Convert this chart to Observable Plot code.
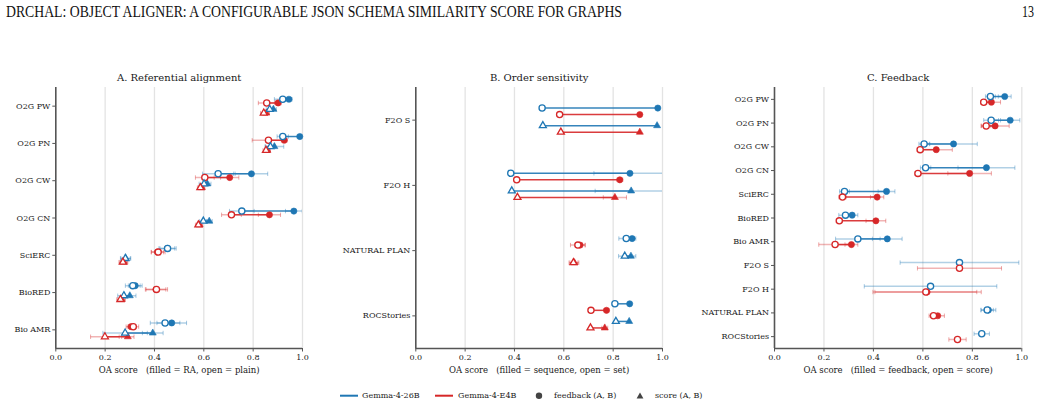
<!DOCTYPE html>
<html><head><meta charset="utf-8">
<script src="https://cdn.jsdelivr.net/npm/d3@7"></script>
<script src="https://cdn.jsdelivr.net/npm/@observablehq/plot@0.6"></script>
<style>
html,body{margin:0;padding:0;background:#fff;}
body{width:1041px;height:406px;position:relative;overflow:hidden;font-family:"DejaVu Serif",serif;}
.abs{position:absolute;}
.abs svg{overflow:visible;max-width:none;background:transparent;}
</style></head><body>
<svg class="abs" style="left:0;top:0" width="1041" height="30">
  <text x="6" y="17" font-family="Liberation Serif" font-size="16" textLength="616" lengthAdjust="spacingAndGlyphs" fill="#111">DRCHAL: OBJECT ALIGNER: A CONFIGURABLE JSON SCHEMA SIMILARITY SCORE FOR GRAPHS</text>
  <text x="1034" y="17" text-anchor="end" font-family="Liberation Serif" font-size="16" textLength="12" lengthAdjust="spacingAndGlyphs" fill="#111">13</text>
</svg>
<div id="pa" class="abs" style="left:0;top:60px;width:340px;height:320px"></div>
<div id="pb" class="abs" style="left:340px;top:60px;width:360px;height:320px"></div>
<div id="pc" class="abs" style="left:700px;top:60px;width:341px;height:320px"></div>
<svg class="abs" style="left:0;top:380px" width="1041" height="26" font-family="DejaVu Serif" font-size="8" fill="#222">
  <line x1="340" x2="358" y1="15.7" y2="15.7" stroke="#1f77b4" stroke-width="2"/>
  <text x="362" y="15.7" dominant-baseline="middle">Gemma-4-26B</text>
  <line x1="435" x2="453" y1="15.7" y2="15.7" stroke="#d62728" stroke-width="2"/>
  <text x="458" y="15.7" dominant-baseline="middle">Gemma-4-E4B</text>
  <circle cx="539" cy="15.7" r="3.2" fill="#444"/>
  <text x="554" y="15.7" dominant-baseline="middle">feedback (A, B)</text>
  <polygon points="636.6,18.6 643.4,18.6 640,12.6" fill="#444"/>
  <text x="655" y="15.7" dominant-baseline="middle">score (A, B)</text>
</svg>
<script>
// ---------- data ----------
const models = ["Gemma-4-26B", "Gemma-4-E4B"];
const catsA = ["O2G PW","O2G PN","O2G CW","O2G CN","SciERC","BioRED","Bio AMR"];
const catsB = ["F2O S","F2O H","NATURAL PLAN","ROCStories"];
const catsC = ["O2G PW","O2G PN","O2G CW","O2G CN","SciERC","BioRED","Bio AMR","F2O S","F2O H","NATURAL PLAN","ROCStories"];

// Panel A: [plain, plainErr, RA, RAErr]
const A_26B_feedback = [[0.920,0.034,0.945,0.013],[0.920,0.023,0.989,0.010],[0.658,0.063,0.793,0.066],[0.754,0.050,0.965,0.034],[0.453,0.035,0.452,0.030],[0.312,0.030,0.322,0.028],[0.443,0.060,0.470,0.060]];
const A_E4B_feedback = [[0.855,0.034,0.901,0.013],[0.862,0.066,0.926,0.012],[0.604,0.038,0.705,0.037],[0.712,0.040,0.866,0.045],[0.415,0.028,0.412,0.025],[0.408,0.045,0.406,0.040],[0.314,0.022,0.305,0.020]];
const A_26B_score    = [[0.867,0.014,0.882,0.012],[0.870,0.020,0.886,0.038],[0.601,0.020,0.614,0.015],[0.598,0.015,0.622,0.012],[0.282,0.020,0.284,0.020],[0.276,0.025,0.300,0.025],[0.281,0.090,0.393,0.042]];
const A_E4B_score    = [[0.843,0.013,0.853,0.013],[0.852,0.012,0.858,0.012],[0.586,0.012,0.592,0.012],[0.578,0.012,0.583,0.012],[0.272,0.016,0.276,0.016],[0.262,0.015,0.267,0.015],[0.199,0.058,0.292,0.025]];

// Panel B: [set, setErr, sequence, seqErr]
const B_26B_feedback = [[0.512,0,0.981,0],[0.385,0,0.868,0.146],[0.853,0.030,0.877,0.015],[0.807,0,0.867,0]];
const B_E4B_feedback = [[0.583,0,0.908,0],[0.409,0,0.827,0.012],[0.657,0.030,0.666,0.020],[0.710,0,0.773,0.010]];
const B_26B_score    = [[0.515,0,0.978,0],[0.389,0,0.873,0.146],[0.847,0.025,0.872,0.020],[0.811,0,0.865,0]];
const B_E4B_score    = [[0.588,0,0.908,0],[0.412,0,0.807,0.047],[0.639,0.018,0.643,0.018],[0.708,0,0.766,0.012]];

// Panel C: [score, scoreErr, feedback, feedbackErr]
const C_26B = [[0.873,0.020,0.931,0.026],[0.876,0.030,0.953,0.039],[0.605,0.021,0.724,0.096],[0.611,0.021,0.857,0.115],[0.283,0.020,0.453,0.034],[0.287,0.027,0.314,0.023],[0.337,0.090,0.456,0.060],[0.748,0.240,null,0],[0.631,0.268,null,0],[0.860,0.025,0.865,0.030],[0.838,0.031,null,0]];
const C_E4B = [[0.846,0.013,0.877,0.037],[0.856,0.019,0.892,0.057],[0.589,0.012,0.654,0.065],[0.580,0.012,0.789,0.088],[0.275,0.015,0.415,0.027],[0.262,0.012,0.410,0.040],[0.245,0.066,0.311,0.026],[0.748,0.170,null,0],[0.612,0.206,0.617,0.219],[0.643,0.018,0.660,0.027],[0.740,0.035,null,0]];

const xTicks = [0, 0.2, 0.4, 0.6, 0.8, 1.0];

// ---------- drawing ----------
const BLUE = "#1f77b4", RED = "#d62728";
const vline = {draw(ctx, size) { const r = Math.sqrt(size / Math.PI); ctx.moveTo(0, -r); ctx.lineTo(0, r); }};

function panel(el, {cats, series, title, xlabel, width, marginLeft, marginRight}) {
  const n = cats.length;
  const errMarks = [], linkMarks = [], fillMarks = [], openMarks = [];
  for (const s of series) {
    const rows = s.values.map((v, i) => ({y: i + s.off, open: v[0], oe: v[1], fill: v[2], fe: v[3]}));
    const errs = [];
    for (const r of rows) {
      if (r.oe > 0) errs.push({y: r.y, v: r.open, e: r.oe});
      if (r.fill != null && r.fe > 0) errs.push({y: r.y, v: r.fill, e: r.fe});
    }
    const caps = errs.flatMap(d => [{y: d.y, x: d.v - d.e}, {y: d.y, x: d.v + d.e}]);
    const both = rows.filter(r => r.fill != null);
    const sym = s.symbol;
    const rr = sym === "triangle" ? 2.6 : 3.1;
    errMarks.push(
      Plot.link(errs, {x1: d => d.v - d.e, x2: d => d.v + d.e, y1: "y", y2: "y", stroke: s.color, strokeOpacity: 0.35, strokeWidth: 1.5, clip: true}),
      Plot.dot(caps, {x: "x", y: "y", symbol: vline, r: 2.2, stroke: s.color, strokeOpacity: 0.45, strokeWidth: 0.9, clip: true})
    );
    linkMarks.push(Plot.link(both, {x1: "open", x2: "fill", y1: "y", y2: "y", stroke: s.color, strokeWidth: 1.5, strokeOpacity: 0.9}));
    fillMarks.push(Plot.dot(both, {x: "fill", y: "y", symbol: sym, r: rr, fill: s.color, stroke: s.color, strokeWidth: 0.6}));
    openMarks.push(Plot.dot(rows, {x: "open", y: "y", symbol: sym, r: rr, fill: "white", stroke: s.color, strokeWidth: 1.3}));
  }
  const svg = Plot.plot({
    width, height: 320, marginTop: 27, marginBottom: 32, marginLeft, marginRight,
    style: {fontFamily: "DejaVu Serif", fontSize: "8px", color: "#1a1a1a", background: "transparent", overflow: "visible"},
    x: {domain: [0, 1]},
    y: {domain: [-0.5, n - 0.5], reverse: true},
    marks: [
      Plot.gridX(xTicks.slice(1), {stroke: "#e3e3e3", strokeOpacity: 1, strokeWidth: 1.3}),
      ...errMarks, ...linkMarks, ...fillMarks, ...openMarks,
      Plot.ruleX([0], {stroke: "#555", strokeWidth: 1.6}),
      Plot.ruleY([n - 0.5], {stroke: "#555", strokeWidth: 1.6}),
      Plot.axisX(xTicks, {tickFormat: d3.format(".1f"), tickSize: 3.5, tickPadding: 2, stroke: "#555", label: null}),
      Plot.axisY(d3.range(n), {tickFormat: i => cats[i], tickSize: 3, tickPadding: 2.5, stroke: "#555", label: null}),
      Plot.text([title], {frameAnchor: "top", dy: -10, lineAnchor: "middle", fontSize: 10, fill: "#1a1a1a"}),
      Plot.text([xlabel], {frameAnchor: "bottom", dy: 22, lineAnchor: "middle", fontSize: 8.5, fill: "#1a1a1a"})
    ]
  });
  document.getElementById(el).appendChild(svg);
}

const oA = [-0.185, -0.085, 0.085, 0.185];
panel("pa", {
  cats: catsA, width: 340, marginLeft: 55.3, marginRight: 38,
  title: "A. Referential alignment",
  xlabel: "OA score\u00a0\u00a0\u00a0(filled = RA, open = plain)",
  series: [
    {values: A_26B_feedback, color: BLUE, symbol: "circle", off: oA[0]},
    {values: A_E4B_feedback, color: RED, symbol: "circle", off: oA[1]},
    {values: A_26B_score, color: BLUE, symbol: "triangle", off: oA[2]},
    {values: A_E4B_score, color: RED, symbol: "triangle", off: oA[3]}
  ]
});
panel("pb", {
  cats: catsB, width: 360, marginLeft: 75.3, marginRight: 38,
  title: "B. Order sensitivity",
  xlabel: "OA score\u00a0\u00a0\u00a0(filled = sequence, open = set)",
  series: [
    {values: B_26B_feedback, color: BLUE, symbol: "circle", off: oA[0]},
    {values: B_E4B_feedback, color: RED, symbol: "circle", off: oA[1]},
    {values: B_26B_score, color: BLUE, symbol: "triangle", off: oA[2]},
    {values: B_E4B_score, color: RED, symbol: "triangle", off: oA[3]}
  ]
});
panel("pc", {
  cats: catsC, width: 341, marginLeft: 74, marginRight: 19.7,
  title: "C. Feedback",
  xlabel: "OA score\u00a0\u00a0\u00a0(filled = feedback, open = score)",
  series: [
    {values: C_26B, color: BLUE, symbol: "circle", off: -0.12},
    {values: C_E4B, color: RED, symbol: "circle", off: 0.12}
  ]
});
</script>
</body></html>
